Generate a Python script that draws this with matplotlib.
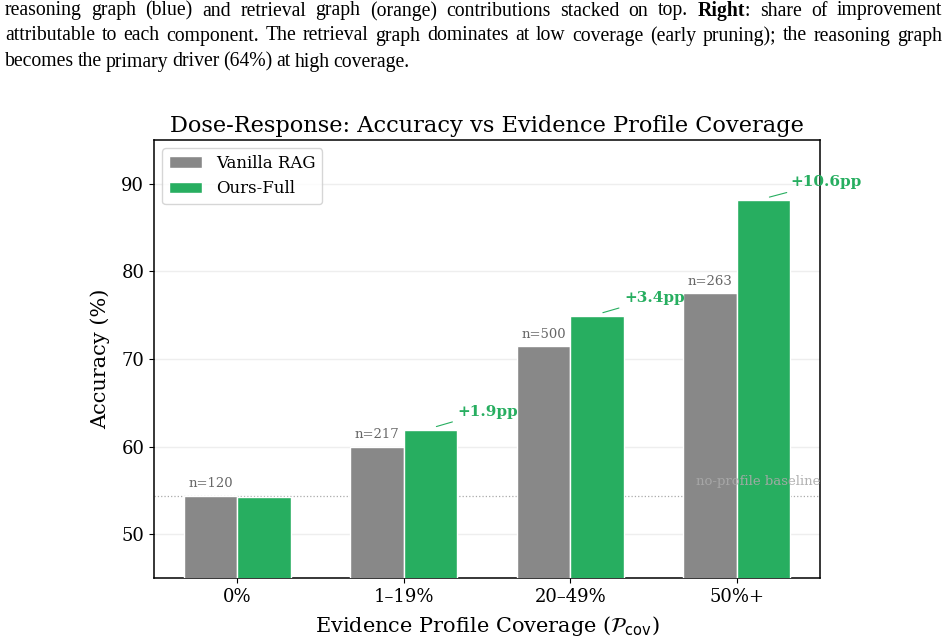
import numpy as np
import matplotlib.pyplot as plt

coverage = ['0%', '1\u201319%', '20\u201349%', '50%+']
vanilla_acc = [54.4, 60.0, 71.5, 77.5]
ours_acc = [54.2, 61.9, 74.9, 88.1]
n_queries = [120, 217, 500, 263]
gains = [None, '+1.9pp', '+3.4pp', '+10.6pp']

# caption lines from the page above the figure: (text, justified)
caption = [
    ('reasoning graph (blue) and retrieval graph (orange) contributions stacked on top. **Right**: share of improvement', True),
    ('attributable to each component. The retrieval graph dominates at low coverage (early pruning); the reasoning graph', True),
    ('becomes the primary driver (64%) at high coverage.', False),
]

gray = '#888888'
green = '#27ae60'

fig = plt.figure(figsize=(9.49, 6.44), dpi=100)
fig.canvas.draw()
r = fig.canvas.get_renderer()

# caption, justified word by word
cap_font = dict(family='Liberation Serif', size=14.2, color='black')
ys = [1 - 11/644, 1 - 36/644, 1 - 62/644]
x0, x1 = 5, 942
for k, (line, justify) in enumerate(caption):
    words = line.split(' ')
    arts = []
    for wd in words:
        if wd.startswith('**'):
            wd = wd.replace('**', '')
            t = fig.text(0, ys[k], wd.split(':')[0], va='center', ha='left', weight='bold', **cap_font)
            t2 = fig.text(0, ys[k], ':', va='center', ha='left', **cap_font)
            arts.append([t, t2])
        else:
            arts.append([fig.text(0, ys[k], wd, va='center', ha='left', **cap_font)])
    widths = [[a.get_window_extent(r).width for a in grp] for grp in arts]
    total = sum(sum(wl) for wl in widths)
    space = (x1 - x0 - total) / (len(arts) - 1) if justify else 3.8
    pos = x0
    for grp, wl in zip(arts, widths):
        for a, wv in zip(grp, wl):
            a.set_x(pos / 949)
            pos += wv
        pos += space

ax = fig.add_axes([154/949, 1 - 578/644, 666/949, 438/644])
x = np.arange(len(coverage))
w = 0.32
ax.bar(x - w/2, vanilla_acc, w, color=gray, edgecolor='white', linewidth=1, label='Vanilla RAG', zorder=3)
ax.bar(x + w/2, ours_acc, w, color=green, edgecolor='white', linewidth=1, label='Ours-Full', zorder=3)

for i in range(len(coverage)):
    ax.text(x[i] - w/2, vanilla_acc[i] + 0.6, f'n={n_queries[i]}', ha='center', va='bottom',
            fontsize=9.5, color='#666666', family='DejaVu Serif', zorder=4)
    if gains[i]:
        ax.annotate(gains[i], xy=(x[i] + w/2 + 0.02, ours_acc[i] + 0.3),
                    xytext=(x[i] + w + 0.005, ours_acc[i] + 2.1), ha='left', va='center',
                    fontsize=11, fontweight='bold', color=green, family='DejaVu Serif',
                    arrowprops=dict(arrowstyle='-', color=green, lw=0.8), annotation_clip=False,
                    zorder=5)

ax.axhline(vanilla_acc[0], color='#aaaaaa', linestyle=':', linewidth=0.9, zorder=1)
ax.text(3.5, vanilla_acc[0] + 0.9, 'no-profile baseline', ha='right', va='bottom',
        fontsize=9.5, color='#aaaaaa', alpha=0.9, family='DejaVu Serif', zorder=6)

ax.set_xlim(-0.5, 3.5)
ax.set_ylim(45, 95)
ax.set_yticks([50, 60, 70, 80, 90])
ax.set_xticks(x)
ax.set_xticklabels(coverage, family='DejaVu Serif', fontsize=13)
for lab in ax.get_yticklabels():
    lab.set_family('DejaVu Serif')
    lab.set_fontsize(13)
ax.yaxis.grid(True, color='#eeeeee', linewidth=1, zorder=0)
ax.set_axisbelow(True)
for s in ax.spines.values():
    s.set_linewidth(1.1)
ax.set_title('Dose-Response: Accuracy vs Evidence Profile Coverage', family='DejaVu Serif', fontsize=16.2)
ax.set_ylabel('Accuracy (%)', family='DejaVu Serif', fontsize=15, labelpad=8)
ax.set_xlabel(r'Evidence Profile Coverage ($\mathcal{P}_{\rm cov}$)', family='DejaVu Serif', fontsize=15,
              labelpad=6)
ax.legend(loc='upper left', prop=dict(family='DejaVu Serif', size=12), edgecolor='#cccccc')

fig.savefig('out.png', dpi=100)
